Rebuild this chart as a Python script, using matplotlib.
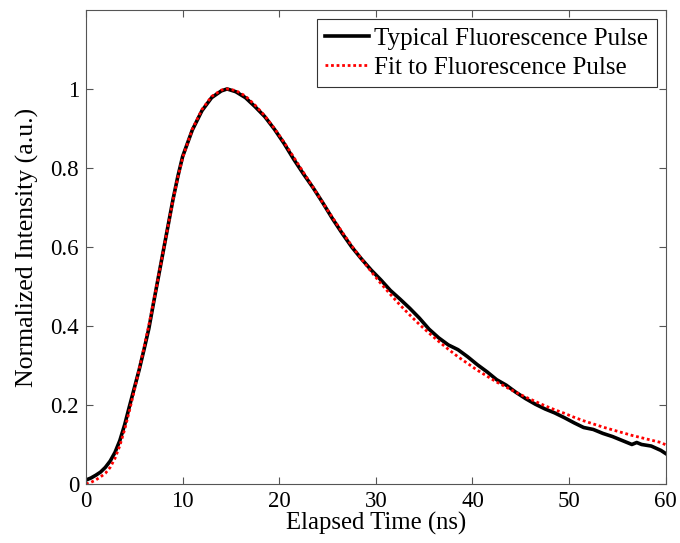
import matplotlib
matplotlib.use("Agg")
import matplotlib.pyplot as plt

plt.rcParams['font.family'] = ['Liberation Serif', 'DejaVu Serif']

t_pulso = [0, 0.5, 1.0, 1.5, 2.0, 2.5, 3.0, 3.5, 4.0, 4.5, 5.0, 5.5, 6.0, 6.5, 7.0, 7.5,
           8.0, 8.5, 9.0, 9.5, 10, 11, 12, 13, 14, 14.6, 15.5, 16.5, 17.5, 18.5, 19.5,
           20.5, 21.5, 22.5, 23.5, 24.5, 25.5, 26.5, 27.5, 28.5, 29.5, 30.5, 31.5, 32.5,
           33.5, 34.5, 35.5, 36.5, 37.5, 38.5, 39.5, 40.5, 41.5, 42.5, 43.5, 44.5, 45.5,
           46.5, 47.5, 48.5, 49.5, 50.5, 51.5, 52.5, 53.5, 54.5, 55.5, 56.5, 57.0, 57.5,
           58.5, 59.5, 60]
i_pulso = [0.010, 0.015, 0.022, 0.030, 0.042, 0.058, 0.080, 0.110, 0.150, 0.197, 0.243,
           0.289, 0.340, 0.393, 0.460, 0.525, 0.590, 0.655, 0.720, 0.778, 0.829, 0.896,
           0.945, 0.978, 0.995, 1.000, 0.993, 0.978, 0.955, 0.930, 0.898, 0.862, 0.822,
           0.785, 0.750, 0.712, 0.672, 0.635, 0.600, 0.570, 0.542, 0.517, 0.490, 0.468,
           0.445, 0.420, 0.392, 0.370, 0.352, 0.340, 0.322, 0.302, 0.284, 0.264, 0.250,
           0.232, 0.216, 0.202, 0.190, 0.180, 0.168, 0.155, 0.143, 0.138, 0.128, 0.120,
           0.110, 0.100, 0.105, 0.100, 0.096, 0.085, 0.077]

# ajuste
t_fit = [0, 0.5, 1.0, 1.5, 2.0, 2.5, 3.0, 3.5, 4.0, 4.5, 5.0, 5.5, 6.0, 6.5, 7.0, 7.5,
         8.0, 8.5, 9.0, 9.5, 10, 11, 12, 13, 14, 14.6, 15.5, 16.5, 17.5, 18.5, 19.5,
         20.5, 21.5, 22.5, 23.5, 24.5, 25.5, 26.5, 27.5, 28.5, 29.5, 30.5, 31.5, 32.5,
         33.5, 34.5, 35.5, 36.5, 37.5, 38.5, 39.5, 40.5, 41.5, 42.5, 43.5, 44.5, 45.5,
         46.5, 47.5, 48.5, 49.5, 50.5, 51.5, 52.5, 53.5, 54.5, 55.5, 56.5, 57.5, 58.5,
         59.5, 60]
i_fit = [0.000, 0.004, 0.010, 0.018, 0.027, 0.042, 0.065, 0.097, 0.138, 0.186, 0.237,
         0.290, 0.345, 0.402, 0.462, 0.525, 0.590, 0.655, 0.718, 0.776, 0.826, 0.898,
         0.948, 0.981, 0.997, 1.000, 0.996, 0.982, 0.959, 0.932, 0.900, 0.865, 0.827,
         0.789, 0.751, 0.712, 0.675, 0.638, 0.603, 0.570, 0.538, 0.508, 0.480, 0.453,
         0.428, 0.404, 0.382, 0.361, 0.341, 0.322, 0.305, 0.288, 0.273, 0.258, 0.245,
         0.232, 0.220, 0.209, 0.198, 0.188, 0.179, 0.169, 0.160, 0.152, 0.144, 0.137,
         0.130, 0.123, 0.117, 0.111, 0.105, 0.099]

x_ticks = [0, 10, 20, 30, 40, 50, 60]
y_ticks = [0, 0.2, 0.4, 0.6, 0.8, 1]
y_labels = ['0', '0.2', '0.4', '0.6', '0.8', '1']

fig = plt.figure(figsize=(6.8, 5.43), dpi=100)
ax = fig.add_axes([0.1265, 0.1087, 0.8525, 0.873])

ax.plot(t_pulso, i_pulso, color='black', lw=2.6, label='Typical Fluorescence Pulse')
ax.plot(t_fit, i_fit, color='red', lw=2.0, linestyle=(0, (1, 1)),
        label='Fit to Fluorescence Pulse')

ax.set_xlim(0, 60)
ax.set_ylim(0, 1.2)
ax.set_xticks(x_ticks)
ax.set_yticks(y_ticks)
ax.set_yticklabels(y_labels)
ax.tick_params(direction='in', top=True, right=True, labelsize=16.5, length=5,
               color='#555555', width=0.8, pad=5)
for s in ax.spines.values():
    s.set_color('#555555')
    s.set_linewidth(0.8)

ax.set_xlabel('Elapsed Time (ns)', fontsize=17.8, labelpad=0)
ax.set_ylabel('Normalized Intensity (a.u.)', fontsize=18.5, labelpad=8)

leg = ax.legend(loc='upper right', fontsize=18, fancybox=False, framealpha=1,
                edgecolor='#333333', handlelength=1.75, handletextpad=0.2,
                borderpad=0.35, labelspacing=0.25, borderaxespad=0.35)
leg.get_frame().set_linewidth(0.8)

fig.savefig('out.png', dpi=100)
